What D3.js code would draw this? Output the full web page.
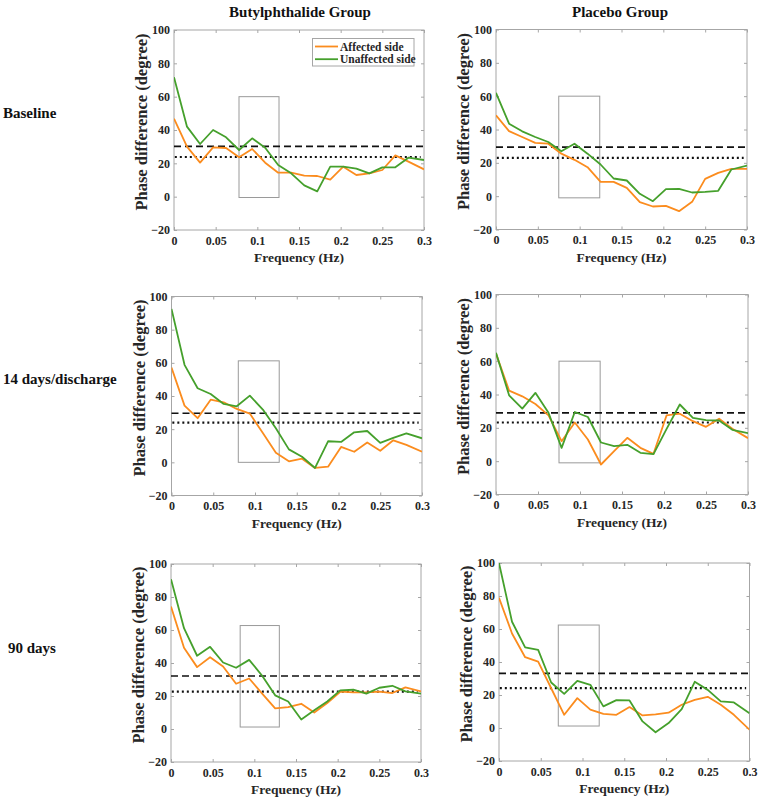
<!DOCTYPE html>
<html><head><meta charset="utf-8">
<script src="https://cdn.jsdelivr.net/npm/d3@7"></script>
<style>body{margin:0;background:#fff}svg{display:block}</style>
</head><body>
<script>
const frequencies = [0, 0.0156, 0.0313, 0.0469, 0.0625, 0.0781, 0.0938, 0.1094, 0.125, 0.1406, 0.1563, 0.1719, 0.1875, 0.2031, 0.2188, 0.2344, 0.25, 0.2656, 0.2813, 0.3];
const columnTitles = ["Butylphthalide Group", "Placebo Group"];
const rowLabels = ["Baseline", "14 days/discharge", "90 days"];
const seriesNames = ["Affected side", "Unaffected side"];
const yTicks = [-20, 0, 20, 40, 60, 80, 100];
const xTicks = [0, 0.05, 0.1, 0.15, 0.2, 0.25, 0.3];

const affectedButylBaseline = [46.8, 30, 20.4, 29.6, 29.2, 23.6, 28.6, 20.4, 14.4, 14.4, 12.6, 12.4, 10.2, 18, 13, 14, 16, 24.8, 21, 16.4];
const unaffectedButylBaseline = [71.6, 42, 31.6, 40, 35.6, 28, 35, 29.4, 19, 14, 6.8, 3.2, 18, 18, 16.8, 14, 17.6, 17.6, 23.4, 22];
const affectedPlaceboBaseline = [48.5, 39, 35.5, 32, 31.5, 25.5, 21.8, 17.4, 8.6, 8.6, 5, -3.6, -6.2, -5.8, -9, -3.4, 10.4, 14, 16.4, 16.4];
const unaffectedPlaceboBaseline = [62, 43.5, 38.9, 35.5, 32.5, 26.9, 31.5, 25.5, 19, 10.6, 9.4, 1.4, -3, 4.2, 4.4, 2.2, 2.6, 3.2, 16, 18.4];
const affectedButyl14d = [57.1, 34.2, 26.6, 37.8, 36.2, 32.2, 29.4, 17.7, 5.8, 0.6, 2.2, -3.4, -2.6, 9.3, 6.4, 12, 7, 13.3, 10.5, 6.4];
const unaffectedButyl14d = [92.5, 58.8, 44.7, 41.2, 35.2, 33.8, 40.2, 31.8, 20.5, 7.8, 3.4, -3.4, 12.7, 12.3, 18.1, 18.9, 11.7, 14.7, 17.5, 14.5];
const affectedPlacebo14d = [64.5, 42.3, 38.9, 34.3, 27.5, 12, 23.2, 13, -2, 6, 14, 8, 4.4, 27.5, 28.5, 24, 20.6, 25.5, 19.4, 13.8];
const unaffectedPlacebo14d = [65, 39.5, 31.5, 41, 29, 8, 29.5, 26.5, 11.2, 9, 9.8, 5, 4.2, 19.4, 34, 26, 24.6, 24.4, 18.8, 16.8];
const affectedButyl90d = [74.2, 49.2, 37.5, 43.5, 37.9, 27.4, 30.6, 21.4, 12.5, 13.3, 15.3, 10, 15.7, 22.6, 22.2, 22.2, 22.6, 21.8, 25.2, 22.8];
const unaffectedButyl90d = [90.7, 61.1, 44.4, 49.8, 40.3, 37.1, 41.9, 32.3, 20.4, 16.7, 5.8, 11.3, 16.7, 23.4, 23.8, 21.4, 25, 26.2, 22.8, 21.4];
const affectedPlacebo90d = [78.9, 57.3, 42.9, 40.2, 24.1, 8, 18.1, 11.1, 8.5, 8, 12.7, 7.6, 8.2, 9.3, 14.1, 17.1, 18.9, 14.1, 8, -1];
const unaffectedPlacebo90d = [100, 64.4, 48.9, 47.3, 27.6, 20.7, 28.6, 26.2, 13.1, 16.9, 16.7, 4, -2.6, 3, 11.5, 28, 23.1, 16.1, 15.5, 9];

const dashedLevels = [30.2, 29.4, 29.6, 29.0, 32.1, 33.1];
const dottedLevels = [23.8, 23.0, 23.9, 23.2, 22.6, 24.2];
const bandFreqStart = [0.078, 0.075, 0.080, 0.075, 0.083, 0.071];
const bandFreqEnd = [0.126, 0.124, 0.129, 0.124, 0.130, 0.120];
const bandLow = [-0.5, -1, 0, -1, 1.2, 1.2];
const bandHigh = [60, 60, 61.2, 60, 62.7, 62.4];

const affectedSeries = [affectedButylBaseline, affectedPlaceboBaseline, affectedButyl14d, affectedPlacebo14d, affectedButyl90d, affectedPlacebo90d];
const unaffectedSeries = [unaffectedButylBaseline, unaffectedPlaceboBaseline, unaffectedButyl14d, unaffectedPlacebo14d, unaffectedButyl90d, unaffectedPlacebo90d];

const W = 760, H = 801;
const panelBoxes = [
  {l: 174, r: 424, t: 30, b: 230},
  {l: 496, r: 747, t: 29.5, b: 229.5},
  {l: 171.5, r: 422, t: 296.5, b: 495.5},
  {l: 496, r: 748, t: 294.5, b: 494.5},
  {l: 171, r: 421, t: 564, b: 762},
  {l: 499, r: 749.5, t: 563, b: 761}
];
const ORANGE = "#fb8c1e", GREEN = "#45a02c", FRAME = "#a6a6a6", TXT = "#262626";
const FONT = "'Liberation Serif','Times New Roman',serif";

const svg = d3.select("body").append("svg").attr("width", W).attr("height", H)
  .style("font-family", FONT);

const titleX = [300, 620];
columnTitles.forEach((t, i) => {
  svg.append("text").attr("x", titleX[i]).attr("y", 17).attr("text-anchor", "middle")
    .attr("font-weight", "bold").attr("font-size", 15).attr("fill", "#111").text(t);
});
const rowY = [118, 384, 653];
const rowX = [3, 3, 8];
rowLabels.forEach((t, i) => {
  svg.append("text").attr("x", rowX[i]).attr("y", rowY[i]).attr("font-weight", "bold")
    .attr("font-size", 15).attr("fill", "#111").text(t);
});

panelBoxes.forEach((box, p) => {
  const x = d3.scaleLinear().domain([0, 0.3]).range([box.l, box.r]);
  const y = d3.scaleLinear().domain([-20, 100]).range([box.b, box.t]);
  const g = svg.append("g");
  const clipId = "clip" + p;
  svg.append("clipPath").attr("id", clipId).append("rect")
    .attr("x", box.l).attr("y", box.t).attr("width", box.r - box.l).attr("height", box.b - box.t);

  g.append("rect").attr("x", box.l).attr("y", box.t).attr("width", box.r - box.l).attr("height", box.b - box.t)
    .attr("fill", "none").attr("stroke", FRAME).attr("stroke-width", 1);

  const tickLen = 3;
  const bottom = g.append("g").attr("transform", `translate(0,${box.b})`)
    .call(d3.axisBottom(x).tickValues(xTicks).tickSize(-tickLen).tickPadding(6).tickFormat(d3.format("")));
  const top = g.append("g").attr("transform", `translate(0,${box.t})`)
    .call(d3.axisTop(x).tickValues(xTicks).tickSize(-tickLen).tickFormat(""));
  const left = g.append("g").attr("transform", `translate(${box.l},0)`)
    .call(d3.axisLeft(y).tickValues(yTicks).tickSize(-tickLen).tickPadding(4));
  const right = g.append("g").attr("transform", `translate(${box.r},0)`)
    .call(d3.axisRight(y).tickValues(yTicks).tickSize(-tickLen).tickFormat(""));
  [bottom, top, left, right].forEach(a => {
    a.select(".domain").remove();
    a.selectAll(".tick line").attr("stroke", FRAME);
    a.selectAll("text").attr("fill", TXT).attr("font-weight", "bold").attr("font-size", 12)
      .style("font-family", FONT);
  });

  g.append("rect").attr("x", x(bandFreqStart[p])).attr("y", y(bandHigh[p]))
    .attr("width", x(bandFreqEnd[p]) - x(bandFreqStart[p])).attr("height", y(bandLow[p]) - y(bandHigh[p]))
    .attr("fill", "none").attr("stroke", "#9a9a9a").attr("stroke-width", 1);

  g.append("line").attr("x1", x(0)).attr("x2", x(0.3)).attr("y1", y(dashedLevels[p])).attr("y2", y(dashedLevels[p]))
    .attr("stroke", "#111").attr("stroke-width", 1.6).attr("stroke-dasharray", "7,4");
  g.append("line").attr("x1", x(0.001)).attr("x2", x(0.296)).attr("y1", y(dottedLevels[p])).attr("y2", y(dottedLevels[p]))
    .attr("stroke", "#111").attr("stroke-width", 2.2).attr("stroke-dasharray", "2,3");

  const line = d3.line().x((d, i) => x(frequencies[i])).y(d => y(d));
  const lines = g.append("g").attr("clip-path", `url(#${clipId})`);
  lines.append("path").datum(affectedSeries[p]).attr("d", line)
    .attr("fill", "none").attr("stroke", ORANGE).attr("stroke-width", 1.8).attr("stroke-linejoin", "round");
  lines.append("path").datum(unaffectedSeries[p]).attr("d", line)
    .attr("fill", "none").attr("stroke", GREEN).attr("stroke-width", 1.8).attr("stroke-linejoin", "round");

  g.append("text").attr("x", (box.l + box.r) / 2).attr("y", box.b + 32).attr("text-anchor", "middle")
    .attr("font-weight", "bold").attr("font-size", 13.5).attr("fill", TXT).text("Frequency (Hz)");
  g.append("text").attr("transform", `translate(${box.l - 27},${(box.t + box.b) / 2 - 8}) rotate(-90)`)
    .attr("text-anchor", "middle").attr("font-weight", "bold").attr("font-size", 16.5).attr("fill", TXT)
    .text("Phase difference (degree)");

  if (p === 0) {
    const lg = g.append("g");
    lg.append("rect").attr("x", 312.5).attr("y", 38.5).attr("width", 101.5).attr("height", 27.5)
      .attr("fill", "#fff").attr("stroke", FRAME);
    [ORANGE, GREEN].forEach((c, i) => {
      const yy = 46.5 + i * 12.7;
      lg.append("line").attr("x1", 315).attr("x2", 338).attr("y1", yy).attr("y2", yy)
        .attr("stroke", c).attr("stroke-width", 1.8);
      lg.append("text").attr("x", 340).attr("y", yy + 4).attr("font-weight", "bold")
        .attr("font-size", 11.5).attr("fill", TXT).text(seriesNames[i]);
    });
  }
});
</script>
</body></html>
